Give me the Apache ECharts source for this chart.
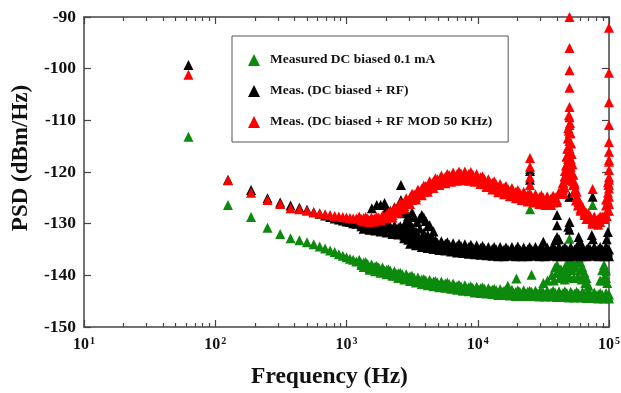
<!DOCTYPE html>
<html><head><meta charset="utf-8">
<script src="https://cdn.jsdelivr.net/npm/echarts@6/dist/echarts.min.js"></script>
<style>html,body{margin:0;padding:0;background:#fff}#c{width:621px;height:393px}</style>
</head><body><div id="c"></div>
<script>
// Frequencies (Hz) shared by the three traces
const freq = [62.5,125,187.5,250,312.5,375,437.5,500,562.5,625,687.5,750,812.5,875,937.5,1000,1062.5,1125,1187.5,
1250,1300,1350,1400,1450,1500,1550,1600,1650,1700,
1760,1820,1880,1950,2020,2090,2160,2240,2320,2400,
2480,2570,2660,2750,2850,2950,3050,3160,3270,3380,
3500,3620,3750,3880,4020,4160,4300,4450,4600,4760,
4930,5100,5280,5470,5660,5860,6060,6270,6490,6720,
6960,7200,7450,7710,7980,8260,8550,8850,9160,9480,
9810,10150,10500,10870,11250,11640,12050,12470,12910,13360,
13830,14310,14810,15330,15870,16420,17000,17590,18210,18850,
19510,20190,20900,21630,22390,23170,23980,24820,25690,26590,
27520,28480,29480,30510,31580,32680,33830,35010,36240,37510,
38820,40180,41590,43040,44550,46110,47720,49390,51120,52910,
54760,56680,58660,60710,62840,65040,67310,69670,72110,74630,
77240,79950,82740,85640,88640,91740,94950,98270,100000];
const bandStart = 19; // first index of the dense (band) part of freq

const greenVals = [-113.2,-126.4,-128.7,-130.8,-132.0,-132.8,-133.2,-133.6,-134.0,-134.4,-134.8,-135.2,-135.5,-135.9,-136.2,-136.5,-136.8,-137.0,-137.3,
-137.0,-137.7,-138.4,-137.4,-138.1,-138.9,-137.9,-138.5,-139.2,-138.2,
-138.8,-139.5,-138.5,-139.1,-139.8,-138.8,-139.4,-140.1,-139.2,-139.8,
-140.5,-139.5,-140.1,-140.8,-139.8,-140.4,-141.1,-140.1,-140.7,-141.4,
-140.4,-141.0,-141.7,-140.7,-141.3,-141.9,-140.9,-141.5,-142.1,-141.1,
-141.7,-142.3,-141.2,-141.8,-142.4,-141.4,-142.0,-142.6,-141.6,-142.2,
-142.8,-141.8,-142.4,-143.0,-141.9,-142.5,-143.1,-142.1,-142.7,-143.3,
-142.2,-142.8,-143.4,-142.3,-142.9,-143.5,-142.5,-143.0,-143.6,-142.6,
-143.2,-143.8,-142.7,-143.2,-143.8,-142.8,-143.3,-143.9,-142.8,-143.4,
-144.0,-142.9,-143.4,-144.0,-142.9,-143.5,-144.0,-143.0,-143.5,-144.0,
-143.0,-143.5,-144.1,-143.0,-143.6,-144.1,-143.0,-143.6,-144.1,-143.0,
-143.6,-144.2,-143.1,-143.7,-144.2,-143.1,-143.7,-144.3,-143.2,-143.7,
-144.3,-143.2,-143.8,-144.3,-143.2,-143.8,-144.4,-143.3,-143.9,-144.4,
-143.3,-143.9,-144.5,-143.4,-143.9,-144.5,-143.4,-144.0,-144.5];
// second row of points inside the green band (same band frequencies)
const greenBandFill = [-137.2,-138.0,-137.5,-138.3,-137.8,-138.6,-138.1,-138.8,-138.3,-139.0,
-138.5,-139.2,-138.7,-139.4,-138.9,-139.7,-139.1,-139.9,-139.4,-140.1,
-139.6,-140.3,-139.8,-140.5,-140.0,-140.7,-140.2,-140.9,-140.4,-141.1,
-140.6,-141.3,-140.8,-141.5,-141.0,-141.6,-141.1,-141.8,-141.2,-141.9,
-141.4,-142.0,-141.5,-142.1,-141.6,-142.2,-141.7,-142.4,-141.8,-142.5,
-142.0,-142.6,-142.1,-142.7,-142.2,-142.8,-142.3,-142.9,-142.4,-143.0,
-142.5,-143.1,-142.5,-143.2,-142.6,-143.3,-142.7,-143.3,-142.8,-143.4,
-142.9,-143.5,-142.9,-143.5,-143.0,-143.6,-143.0,-143.6,-143.1,-143.7,
-143.2,-143.8,-143.2,-143.8,-143.2,-143.8,-143.2,-143.8,-143.2,-143.9,
-143.3,-143.9,-143.3,-143.9,-143.3,-143.9,-143.3,-143.9,-143.3,-143.9,
-143.3,-144.0,-143.4,-144.0,-143.4,-144.0,-143.4,-144.0,-143.4,-144.1,
-143.5,-144.1,-143.5,-144.1,-143.5,-144.1,-143.6,-144.2,-143.6,-144.2,
-143.6,-144.2,-143.7,-144.3,-143.7,-144.3,-143.7,-144.3,-143.7];

const blackVals = [-99.3,-121.5,-123.5,-125.1,-125.9,-126.5,-126.9,-127.3,-127.8,-128.1,-128.4,-128.7,-129.0,-129.2,-129.4,-129.6,-129.7,-129.9,-130.0,
-129.2,-130.1,-131.0,-129.4,-130.3,-131.2,-129.5,-130.4,-131.3,-129.7,
-130.6,-131.5,-129.9,-130.8,-131.7,-130.1,-131.0,-132.0,-130.3,-131.2,
-132.1,-130.5,-131.6,-132.8,-131.5,-132.7,-133.9,-132.3,-133.3,-134.2,
-132.7,-133.6,-134.5,-132.9,-133.8,-134.7,-133.1,-134.0,-134.9,-133.2,
-134.1,-135.1,-133.4,-134.3,-135.2,-133.6,-134.5,-135.4,-133.8,-134.7,
-135.6,-133.9,-134.8,-135.7,-134.0,-134.9,-135.8,-134.1,-135.0,-135.9,
-134.2,-135.1,-136.0,-134.3,-135.2,-136.1,-134.5,-135.3,-136.2,-134.5,
-135.4,-136.3,-134.5,-135.3,-136.3,-134.6,-135.4,-136.2,-134.5,-135.4,
-136.3,-134.4,-135.4,-136.3,-134.6,-135.5,-136.3,-134.5,-135.4,-136.2,
-134.5,-135.3,-136.3,-134.4,-135.4,-136.3,-134.6,-135.4,-136.2,-134.5,
-135.4,-136.3,-134.4,-135.5,-136.3,-134.6,-135.4,-136.3,-134.5,-135.3,
-136.2,-134.5,-135.4,-136.3,-134.4,-135.4,-136.3,-134.6,-135.4,-136.2,
-134.5,-135.3,-136.3,-134.5,-135.4,-136.3,-134.4,-135.4,-136.3];
const blackBandFill = [-129.6,-130.5,-129.7,-130.6,-129.8,-130.7,-129.9,-130.8,-130.0,-130.9,
-130.1,-131.0,-130.3,-131.2,-130.4,-131.4,-130.6,-131.5,-130.7,-131.6,
-130.8,-131.7,-131.2,-132.3,-131.9,-133.1,-132.6,-133.5,-132.8,-133.8,
-133.1,-134.0,-133.2,-134.1,-133.4,-134.3,-133.5,-134.4,-133.6,-134.5,
-133.7,-134.6,-133.8,-134.7,-133.9,-134.8,-134.1,-135.0,-134.2,-135.1,
-134.3,-135.1,-134.3,-135.2,-134.4,-135.3,-134.5,-135.4,-134.6,-135.4,
-134.6,-135.5,-134.7,-135.6,-134.8,-135.7,-134.9,-135.7,-134.9,-135.8,
-135.0,-135.8,-134.9,-135.8,-135.0,-135.9,-135.0,-135.8,-134.9,-135.8,
-135.0,-135.8,-135.0,-135.9,-134.9,-135.8,-135.0,-135.8,-135.0,-135.9,
-134.9,-135.8,-135.0,-135.8,-135.0,-135.9,-134.9,-135.8,-135.0,-135.8,
-135.0,-135.9,-134.9,-135.8,-135.0,-135.8,-135.0,-135.9,-134.9,-135.8,
-135.0,-135.8,-135.0,-135.9,-134.9,-135.8,-135.0,-135.8,-135.0,-135.9,
-134.9,-135.8,-135.0,-135.8,-135.0,-135.9,-134.9,-135.8,-135.0];

const redVals = [-101.2,-121.6,-124.0,-125.4,-126.2,-127.0,-127.2,-127.5,-127.8,-128.0,-128.2,-128.3,-128.5,-128.6,-128.7,-128.8,-128.9,-129.0,-129.0,
-128.6,-129.1,-129.6,-128.7,-129.2,-129.7,-128.8,-129.2,-129.6,-128.7,
-129.1,-129.4,-128.4,-128.6,-128.9,-127.9,-128.2,-128.8,-126.8,-127.3,
-127.9,-125.9,-126.5,-127.1,-125.1,-125.6,-126.2,-124.2,-124.7,-125.3,
-123.4,-123.9,-124.5,-122.6,-123.2,-123.8,-121.8,-122.4,-123.1,-121.2,
-121.8,-122.5,-120.7,-121.4,-122.2,-120.4,-121.1,-121.9,-120.1,-120.9,
-121.7,-119.9,-120.7,-121.6,-119.9,-120.8,-121.7,-120.0,-120.9,-121.9,
-120.4,-121.3,-122.3,-120.8,-121.9,-122.9,-121.4,-122.4,-123.4,-121.8,
-122.8,-123.9,-122.3,-123.3,-124.3,-122.7,-123.7,-124.7,-123.1,-124.1,
-125.1,-123.5,-124.4,-125.4,-123.8,-124.7,-125.7,-124.1,-125.0,-125.9,
-124.3,-125.2,-126.2,-124.5,-125.4,-126.4,-124.7,-125.6,-126.4,-124.6,
-125.4,-125.8,-123.9,-123.8,-123.3,-119.8,-117.0,-112.0,-117.5,-120.5,
-123.6,-123.8,-125.8,-127.5,-126.7,-127.9,-129.1,-128.0,-129.0,-130.0,
-128.6,-129.4,-130.2,-128.6,-129.0,-129.0,-125.3,-122.0,-118.0];
const redBandFill = [-128.8,-129.3,-128.9,-129.4,-129.0,-129.4,-129.0,-129.4,-128.9,-129.3,
-128.8,-129.2,-128.6,-128.8,-128.2,-128.5,-127.7,-128.3,-127.2,-127.7,
-126.6,-127.2,-126.1,-126.6,-125.5,-126.0,-124.9,-125.4,-124.3,-124.9,
-123.8,-124.3,-123.2,-123.8,-122.7,-123.3,-122.2,-122.8,-121.8,-122.4,
-121.4,-122.1,-121.1,-121.8,-120.9,-121.6,-120.6,-121.4,-120.5,-121.3,
-120.4,-121.2,-120.3,-121.1,-120.3,-121.2,-120.4,-121.3,-120.5,-121.5,
-120.8,-121.7,-121.0,-122.1,-121.4,-122.4,-121.8,-122.8,-122.1,-123.1,
-122.4,-123.4,-122.7,-123.7,-123.0,-124.0,-123.3,-124.2,-123.5,-124.5,
-123.8,-124.7,-124.0,-124.9,-124.2,-125.1,-124.4,-125.3,-124.6,-125.5,
-124.7,-125.6,-124.9,-125.8,-125.0,-125.9,-125.1,-126.0,-125.1,-125.9,
-124.9,-125.4,-124.2,-124.2,-122.1,-120.9,-118.5,-115.0,-119.0,-121.8,
-122.4,-124.9,-125.4,-127.1,-127.0,-128.3,-127.9,-129.1,-128.6,-129.6,
-128.9,-129.8,-129.0,-129.7,-128.6,-128.6,-126.5,-124.0,-121.0];

// Isolated spikes / peaks
const greenExtraFreq = [16950,19700,25700,31600,34000,36700,38800,40200,41600,43000,44500,46100,47700,49400,51100,52900,54800,56700,58700,60700,62800,65000,67300,69700,85600,88600,91700,94900,
38000,42000,46000,50000,54000,58000,62000,66000,89000,93000,
40000,44000,48000,52000,56000,60000,64000,68000,95000,97000,
25000,25000,50000,50000,75000,100000];
const greenExtraVals = [-142.0,-140.6,-139.9,-141.5,-141.0,-140.0,-138.5,-138.0,-139.5,-138.8,-139.5,-138.5,-137.8,-137.4,-138.5,-137.6,-136.8,-137.0,-136.6,-137.5,-138.5,-139.5,-140.5,-142.0,-141.0,-139.0,-138.0,-139.0,
-141.0,-140.5,-140.8,-140.3,-140.5,-140.2,-140.8,-141.5,-141.0,-140.5,
-139.5,-140.0,-139.5,-139.0,-138.5,-139.0,-140.0,-141.5,-140.5,-141.5,
-119.4,-127.2,-124.8,-132.9,-126.4,-122.5];

const blackExtraFreq = [1560,1700,1820,1950,2020,2160,2320,2480,2600,2600,2660,2750,2850,2950,3050,3160,3270,3440,3600,3750,3880,4020,4160,4300,4600,
2750,2850,2950,3160,3270,3380,3620,3750,3880,4160,4450,
25000,25000,31600,39000,40200,40200,40200,41600,49000,50000,50000,50000,58700,60000,74000,75000,75500,96000,98000];
const blackExtraVals = [-127.0,-126.4,-126.4,-126.0,-127.2,-127.5,-126.8,-127.0,-122.5,-125.4,-128.0,-127.5,-129.5,-128.5,-129.9,-127.8,-128.7,-129.7,-129.0,-128.3,-128.8,-129.5,-130.5,-130.3,-131.5,
-130.5,-132.0,-131.0,-130.8,-132.5,-131.5,-131.0,-133.0,-131.8,-132.2,-132.5,
-119.8,-121.5,-133.5,-133.2,-128.3,-130.3,-132.6,-133.0,-130.6,-124.8,-129.7,-131.2,-132.6,-133.5,-132.2,-124.8,-133.0,-133.0,-131.6];

const redExtraFreq = [50000,50000,50000,50000,50000,50000,50000,50000,50000,50000,50000,50000,50000,50000,
44000,45000,46000,47000,47500,48000,48500,49000,49500,
45000,46000,47000,48000,48800,49300,
50500,51000,51500,52000,52700,53500,54500,55500,57000,
50800,51500,52300,53300,54500,56000,58000,
100000,100000,100000,100000,100000,100000,100000,100000,100000,100000,100000,100000,100000,
99000,98000,97000,96000,
25000,25000,25000,25000,75000];
const redExtraVals = [-90.0,-96.0,-100.3,-103.7,-107.4,-109.4,-110.9,-112.5,-114.0,-115.5,-117.0,-118.5,-120.0,-121.5,
-123.5,-122.2,-120.8,-118.8,-117.0,-115.5,-113.5,-111.5,-109.0,
-124.2,-123.0,-121.5,-119.5,-117.5,-115.5,
-110.5,-112.5,-114.5,-116.5,-118.5,-120.5,-122.0,-123.3,-124.7,
-116.5,-118.5,-120.5,-122.5,-124.0,-125.5,-126.5,
-92.1,-100.8,-106.5,-110.9,-114.2,-116.1,-117.7,-119.6,-121.5,-123.2,-124.8,-126.2,-127.5,
-122.5,-125.5,-127.5,-128.5,
-117.3,-119.0,-121.0,-122.5,-123.3];

const seriesNames = ['Measured DC biased 0.1 mA','Meas. (DC biased + RF)','Meas. (DC biased + RF MOD 50 KHz)'];
const seriesColors = ['#0d8a0d','#000000','#ff0000'];
const xMajorTicks = [10,100,1000,10000,100000];
const xTickExponents = ['1','2','3','4','5'];
const xMinorTicks = [20,30,40,50,60,70,80,90,200,300,400,500,600,700,800,900,2000,3000,4000,5000,6000,7000,8000,9000,20000,30000,40000,50000,60000,70000,80000,90000];
const yMin = -150, yMax = -90, yStep = 10;

function pts(fs, vs) { return fs.map((f, i) => [f, vs[i]]); }
const bandFreq = freq.slice(bandStart);
const allData = [
  pts(freq, greenVals).concat(pts(bandFreq, greenBandFill), pts(greenExtraFreq, greenExtraVals)),
  pts(freq, blackVals).concat(pts(bandFreq, blackBandFill), pts(blackExtraFreq, blackExtraVals)),
  pts(freq, redVals).concat(pts(bandFreq, redBandFill), pts(redExtraFreq, redExtraVals))
];

const serif = 'Liberation Serif';
const axisCol = '#444';
const logAxisBase = {
  type: 'log', logBase: 10, min: 10, max: 100000, gridIndex: 0,
  splitLine: { show: false }, minorTick: { show: false }
};

const chart = echarts.init(document.getElementById('c'), null, { renderer: 'canvas' });
chart.setOption({
  animation: false,
  backgroundColor: '#fff',
  grid: { left: 84, right: 12, top: 17, bottom: 66, containLabel: false, outerBoundsMode: 'none' },
  legend: {
    orient: 'vertical', left: 232, top: 36,
    padding: [17, 16, 13, 16], itemGap: 17,
    itemWidth: 12, itemHeight: 12, icon: 'triangle',
    borderColor: '#555', borderWidth: 1, backgroundColor: '#fff',
    textStyle: { fontFamily: serif, fontWeight: 'bold', fontSize: 13.5, color: '#111', padding: [0, 0, 0, 5] },
    data: seriesNames
  },
  xAxis: [
    Object.assign({}, logAxisBase, {
      position: 'bottom',
      name: 'Frequency (Hz)', nameLocation: 'middle', nameGap: 38,
      nameTextStyle: { fontFamily: serif, fontWeight: 'bold', fontSize: 23.5, color: '#111', padding: [0, 34, 0, 0] },
      axisLine: { show: true, lineStyle: { color: axisCol, width: 1.5 } },
      axisTick: { show: true, inside: true, length: 7, lineStyle: { color: axisCol, width: 1.2 }, customValues: xMajorTicks },
      axisLabel: {
        margin: 9, customValues: xMajorTicks,
        formatter: (v) => '{b|10}{s|' + xTickExponents[Math.round(Math.log10(v)) - 1] + '}',
        rich: {
          b: { fontFamily: serif, fontWeight: 'bold', fontSize: 16, color: '#111', verticalAlign: 'bottom' },
          s: { fontFamily: serif, fontWeight: 'bold', fontSize: 10, color: '#111', verticalAlign: 'bottom', padding: [0, 0, 7, 1] }
        }
      }
    }),
    Object.assign({}, logAxisBase, {
      position: 'top',
      axisLine: { show: true, lineStyle: { color: axisCol, width: 1.5 } },
      axisTick: { show: true, inside: true, length: 7, lineStyle: { color: axisCol, width: 1.2 }, customValues: xMajorTicks },
      axisLabel: { show: false }
    }),
    Object.assign({}, logAxisBase, {
      position: 'bottom',
      axisLine: { show: false },
      axisTick: { show: true, inside: true, length: 4, lineStyle: { color: axisCol, width: 1.2 }, customValues: xMinorTicks },
      axisLabel: { show: false }
    }),
    Object.assign({}, logAxisBase, {
      position: 'top',
      axisLine: { show: false },
      axisTick: { show: true, inside: true, length: 4, lineStyle: { color: axisCol, width: 1.2 }, customValues: xMinorTicks },
      axisLabel: { show: false }
    })
  ],
  yAxis: [
    {
      type: 'value', min: yMin, max: yMax, interval: yStep, position: 'left',
      name: 'PSD (dBm/Hz)', nameLocation: 'middle', nameGap: 49, nameRotate: 90,
      nameTextStyle: { fontFamily: serif, fontWeight: 'bold', fontSize: 23, color: '#111', padding: [0, 0, 0, 28] },
      splitLine: { show: false },
      axisLine: { show: true, lineStyle: { color: axisCol, width: 1.5 } },
      axisTick: { show: true, inside: true, length: 7, lineStyle: { color: axisCol, width: 1.2 } },
      axisLabel: { margin: 8, fontFamily: serif, fontWeight: 'bold', fontSize: 17.5, color: '#111' }
    },
    {
      type: 'value', min: yMin, max: yMax, interval: yStep, position: 'right',
      splitLine: { show: false },
      axisLine: { show: true, lineStyle: { color: axisCol, width: 1.5 } },
      axisTick: { show: true, inside: true, length: 7, lineStyle: { color: axisCol, width: 1.2 } },
      axisLabel: { show: false }
    }
  ],
  series: seriesNames.map((name, i) => ({
    name: name, type: 'scatter', xAxisIndex: 0, yAxisIndex: 0,
    symbol: 'triangle', symbolSize: [10, 10], clip: false,
    itemStyle: { color: seriesColors[i], opacity: 1 },
    emphasis: { disabled: true },
    data: allData[i]
  }))
});
</script>
</body></html>
